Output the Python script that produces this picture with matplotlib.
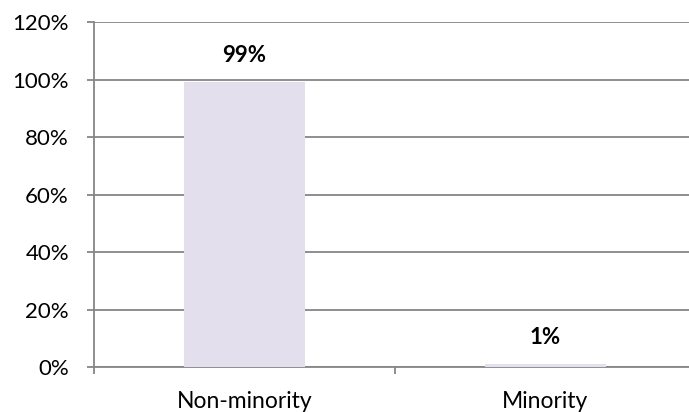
import matplotlib.pyplot as plt
import numpy as np

categories = ['Non-minority', 'Minority']
values = [99, 1]
labels = ['99%', '1%']

plt.rcParams['font.family'] = ['Lato', 'DejaVu Sans']

fig = plt.figure(figsize=(6.89, 4.12), dpi=100)
W, H = 689, 412
# axes from x=94..696 px, y=22..367 px (top-down)
ax = fig.add_axes([94 / W, (H - 367) / H, 602 / W, 345 / H])

x = np.arange(len(categories))
ax.bar(x, values, width=0.40, color='#E4DFEC', zorder=3)

ax.set_xlim(-0.5, 1.5)
ax.set_ylim(0, 120)
ax.set_yticks(range(0, 121, 20))
ax.set_yticklabels([f'{v}%' for v in range(0, 121, 20)], fontsize=16)
ax.yaxis.grid(True, color='#868686', linewidth=1.3, zorder=0)

ax.set_xticks([-0.5, 0.5, 1.5])
ax.set_xticklabels([])
ax.set_xticks(x, minor=True)
ax.set_xticklabels(categories, minor=True, fontsize=16.5)
ax.tick_params(axis='x', which='minor', length=0, pad=17)
ax.tick_params(axis='x', which='major', length=5, color='#868686', width=1.3)
ax.tick_params(axis='y', length=5, color='#868686', width=1.3, pad=13)

for s in ['top', 'right']:
    ax.spines[s].set_visible(False)
for s in ['left', 'bottom']:
    ax.spines[s].set_color('#868686')
    ax.spines[s].set_linewidth(1.3)

for xi, v, lab in zip(x, values, labels):
    ax.annotate(lab, (xi, v), xytext=(0, 19), textcoords='offset points',
                ha='center', va='center', fontsize=16, fontweight='bold')

fig.savefig('out.png', dpi=100)
